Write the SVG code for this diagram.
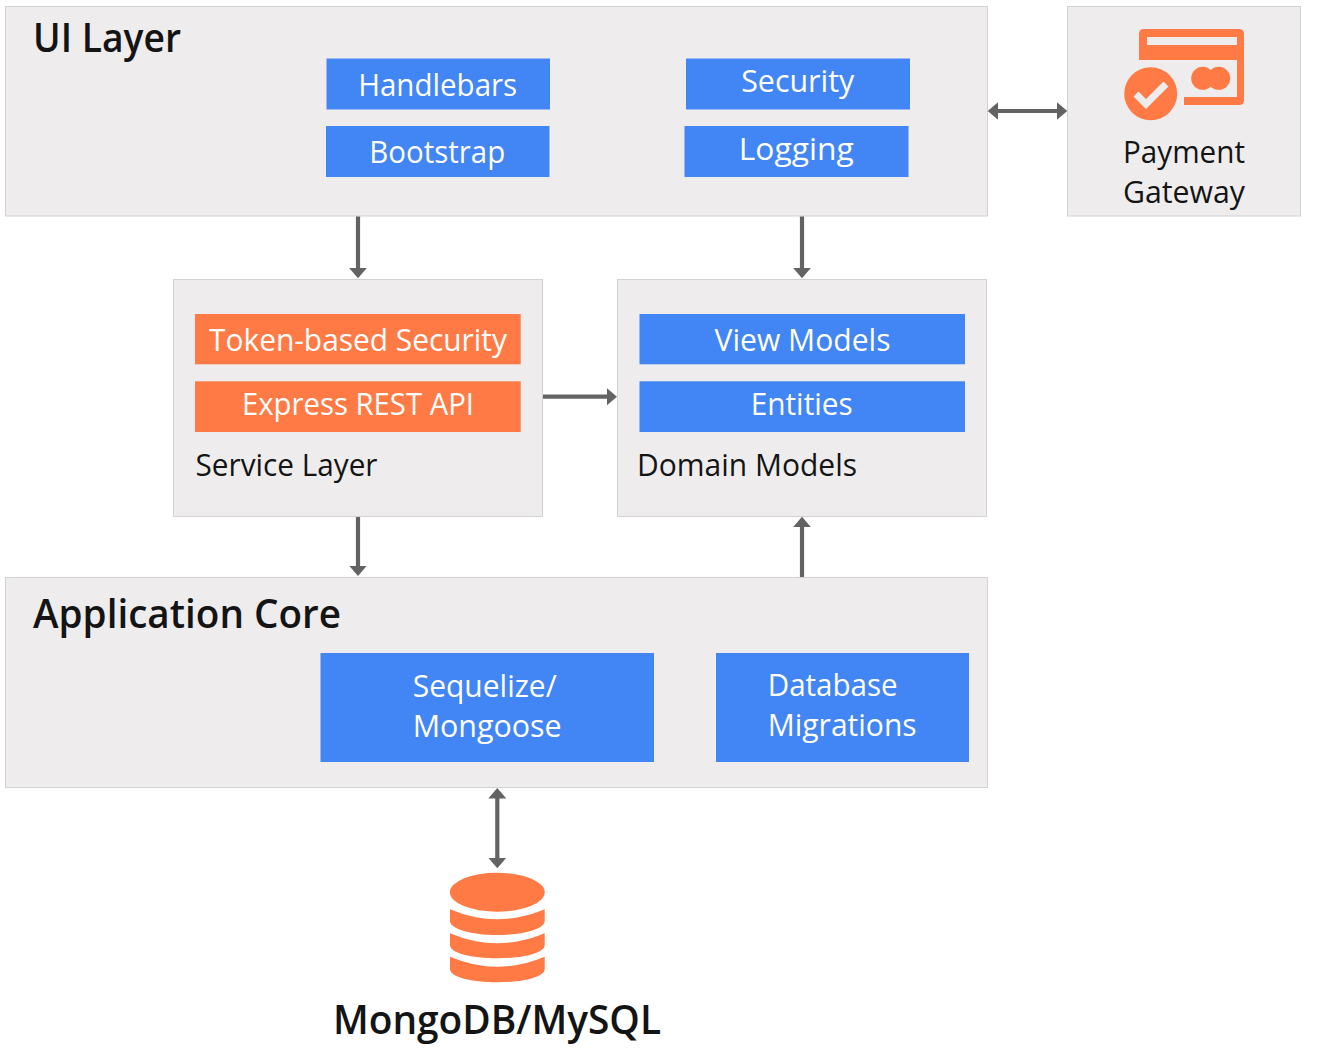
<svg xmlns="http://www.w3.org/2000/svg" width="1323" height="1048" viewBox="0 0 1323 1048">
<style>
text{font-family:"Open Sans","Noto Sans","Liberation Sans",sans-serif}
.panel{fill:#eeeced;stroke:#d2d2d2;stroke-width:1}
.blue{fill:#4285f4}
.orange{fill:#ff7a45}
.w{fill:#ffffff;font-size:31px}
.k{fill:#141414;font-size:31px}
.h{fill:#141414;font-size:40px;font-weight:600}
.m{text-anchor:middle}
.c{fill:none;stroke:#636363;stroke-width:4.200}
</style>
<defs>
<marker id="ah" markerUnits="userSpaceOnUse" markerWidth="12" markerHeight="20" refX="1.500" refY="10" orient="auto-start-reverse">
<path d="M0 1L10.500 10L0 19Z" fill="#636363"/>
</marker>
</defs>
<rect width="1323" height="1048" fill="#ffffff"/>
<g id="ui-layer">
<rect class="panel" x="5.500" y="6.500" width="982" height="209.500"/>
<text class="h" x="33" y="52" textLength="148" lengthAdjust="spacingAndGlyphs">UI Layer</text>
</g>
<g id="handlebars"><rect class="blue" x="326.500" y="58.500" width="223.500" height="51"/><text class="w m" x="437.700" y="96" textLength="159" lengthAdjust="spacingAndGlyphs">Handlebars</text></g>
<g id="bootstrap"><rect class="blue" x="326" y="126" width="223.500" height="51"/><text class="w m" x="437.200" y="163" textLength="136" lengthAdjust="spacingAndGlyphs">Bootstrap</text></g>
<g id="security"><rect class="blue" x="686" y="58.500" width="224" height="51"/><text class="w m" x="797.700" y="92" textLength="113" lengthAdjust="spacingAndGlyphs">Security</text></g>
<g id="logging"><rect class="blue" x="684.500" y="126" width="224" height="51"/><text class="w m" x="796.200" y="160" textLength="115" lengthAdjust="spacingAndGlyphs">Logging</text></g>
<g id="payment-gateway">
<rect class="panel" x="1067.500" y="6.500" width="233" height="209.500"/>
<path class="orange" fill-rule="evenodd" d="M1144 29H1239Q1244 29 1244 34V100Q1244 105 1239 105H1184V97H1237V60H1139V34Q1139 29 1144 29ZM1147 37V45H1237V37Z"/>
<circle class="orange" cx="1202.700" cy="78.300" r="11.500"/>
<circle class="orange" cx="1218.700" cy="78.300" r="11.500"/>
<circle class="orange" cx="1150.700" cy="93.700" r="26.500"/>
<path d="M1136 94L1146 104L1166 84" fill="none" stroke="#eeeced" stroke-width="7"/>
<text class="k" x="1123" y="163" textLength="122" lengthAdjust="spacingAndGlyphs">Payment</text>
<text class="k" x="1123" y="203" textLength="122" lengthAdjust="spacingAndGlyphs">Gateway</text>
</g>
<g id="service-layer">
<rect class="panel" x="173.500" y="279.500" width="369" height="237"/>
<text class="k" x="195.500" y="476" textLength="182" lengthAdjust="spacingAndGlyphs">Service Layer</text>
</g>
<g id="token-security"><rect class="orange" x="195" y="314" width="325.700" height="50.300"/><text class="w m" x="358" y="350.500" textLength="298" lengthAdjust="spacingAndGlyphs">Token-based Security</text></g>
<g id="express-api"><rect class="orange" x="195" y="381.300" width="325.700" height="50.700"/><text class="w m" x="358" y="415" textLength="232" lengthAdjust="spacingAndGlyphs">Express REST API</text></g>
<g id="domain-models">
<rect class="panel" x="617.500" y="279.500" width="369" height="237"/>
<text class="k" x="637" y="476" textLength="220" lengthAdjust="spacingAndGlyphs">Domain Models</text>
</g>
<g id="view-models"><rect class="blue" x="639.500" y="314" width="325.500" height="50.300"/><text class="w m" x="802.500" y="350.500" textLength="176" lengthAdjust="spacingAndGlyphs">View Models</text></g>
<g id="entities"><rect class="blue" x="639.500" y="381.300" width="325.500" height="50.700"/><text class="w m" x="801.700" y="415" textLength="102" lengthAdjust="spacingAndGlyphs">Entities</text></g>
<g id="application-core">
<rect class="panel" x="5.500" y="577.500" width="982" height="210"/>
<text class="h" x="33" y="628" textLength="308" lengthAdjust="spacingAndGlyphs">Application Core</text>
</g>
<g id="sequelize"><rect class="blue" x="320.500" y="653" width="333.500" height="109"/><text class="w" x="412.700" y="697" textLength="144" lengthAdjust="spacingAndGlyphs">Sequelize/</text><text class="w" x="412.700" y="737" textLength="149" lengthAdjust="spacingAndGlyphs">Mongoose</text></g>
<g id="migrations"><rect class="blue" x="716" y="653" width="253" height="109"/><text class="w" x="767.700" y="696" textLength="130" lengthAdjust="spacingAndGlyphs">Database</text><text class="w" x="767.700" y="736" textLength="149" lengthAdjust="spacingAndGlyphs">Migrations</text></g>
<g id="database">
<ellipse class="orange" cx="497.300" cy="892.200" rx="47.400" ry="19.500"/>
<path class="orange" d="M450 909.300Q497.300 929.300 544.700 909.300V921C544.700 929 523 935 497.300 935S450 929 450 921Z"/>
<path class="orange" d="M450 933.300Q497.300 953.300 544.700 933.300V945C544.700 953 523 958.300 497.300 958.300S450 953 450 945Z"/>
<path class="orange" d="M450 956.700Q497.300 976.700 544.700 956.700V969C544.700 977 523 982.300 497.300 982.300S450 977 450 969Z"/>
<text class="h m" x="497" y="1033.500" textLength="328" lengthAdjust="spacingAndGlyphs">MongoDB/MySQL</text>
</g>
<g id="connectors">
<path class="c" d="M358 216.500V269.300" marker-end="url(#ah)"/>
<path class="c" d="M802 216.500V269.300" marker-end="url(#ah)"/>
<path class="c" d="M996.700 111H1058.300" marker-start="url(#ah)" marker-end="url(#ah)"/>
<path class="c" d="M543 396.700H608" marker-end="url(#ah)"/>
<path class="c" d="M358 517V567" marker-end="url(#ah)"/>
<path class="c" d="M802 577V525.700" marker-end="url(#ah)"/>
<path class="c" d="M497.300 797V859.300" marker-start="url(#ah)" marker-end="url(#ah)"/>
</g>
</svg>
